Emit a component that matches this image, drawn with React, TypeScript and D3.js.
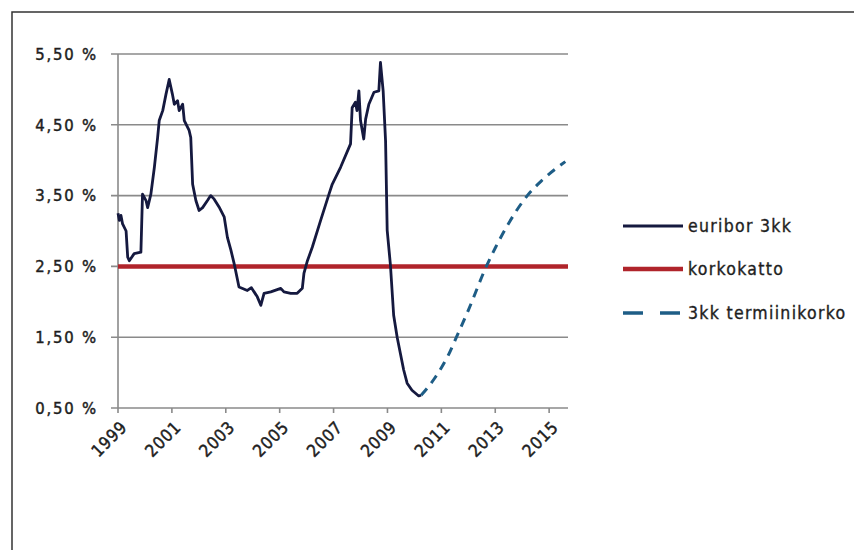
import React from "react";
import * as d3 from "d3";

const euriborDates = [
  1999.0, 1999.05, 1999.11, 1999.17, 1999.3, 1999.36, 1999.42, 1999.6, 1999.85, 1999.91,
  2000.04, 2000.1, 2000.22, 2000.35, 2000.47, 2000.53, 2000.66, 2000.78, 2000.9, 2001.02,
  2001.09, 2001.21, 2001.27, 2001.4, 2001.46, 2001.64, 2001.7, 2001.77, 2001.89, 2002.01,
  2002.14, 2002.32, 2002.44, 2002.57, 2002.75, 2002.94, 2003.06, 2003.19, 2003.31, 2003.49,
  2003.8, 2003.95, 2004.17, 2004.3, 2004.42, 2004.67, 2005.04, 2005.16, 2005.41, 2005.65,
  2005.84, 2005.9, 2006.03, 2006.21, 2006.52, 2006.83, 2006.95, 2007.26, 2007.63, 2007.69,
  2007.81, 2007.87, 2007.94, 2008.0, 2008.12, 2008.19, 2008.31, 2008.5, 2008.68, 2008.74,
  2008.84, 2008.93, 2008.99, 2009.11, 2009.23, 2009.36, 2009.48, 2009.6, 2009.73, 2009.91,
  2010.16, 2010.25,
];
const euriborValues = [
  3.25, 3.15, 3.22, 3.1, 3.0, 2.63, 2.58, 2.68, 2.7, 3.52,
  3.43, 3.33, 3.52, 3.9, 4.32, 4.56, 4.7, 4.93, 5.14, 4.93,
  4.79, 4.84, 4.7, 4.79, 4.56, 4.42, 4.32, 3.66, 3.43, 3.29,
  3.33, 3.43, 3.5, 3.45, 3.34, 3.2, 2.91, 2.73, 2.54, 2.21,
  2.16, 2.2, 2.07, 1.95, 2.12, 2.14, 2.19, 2.14, 2.12, 2.12,
  2.19, 2.4, 2.58, 2.77, 3.15, 3.52, 3.66, 3.9, 4.23, 4.74,
  4.82, 4.7, 4.98, 4.56, 4.3, 4.58, 4.79, 4.96, 4.98, 5.38,
  4.98, 4.27, 3.01, 2.52, 1.81, 1.5, 1.27, 1.04, 0.85, 0.75,
  0.67, 0.68,
];
const forwardDates = [2010.25, 2010.75, 2011.25, 2011.56, 2012.0, 2012.67, 2013.0, 2013.5, 2014.19, 2014.75, 2015.6];
const forwardValues = [0.68, 0.92, 1.24, 1.5, 1.88, 2.5, 2.76, 3.11, 3.5, 3.72, 3.98];
const capValue = 2.5;
const yTicks = [0.5, 1.5, 2.5, 3.5, 4.5, 5.5];
const xTicks = [1999, 2001, 2003, 2005, 2007, 2009, 2011, 2013, 2015];
const seriesNames = ["euribor 3kk", "korkokatto", "3kk termiinikorko"];

const FONT = "'Liberation Sans Narrow', 'DejaVu Sans Condensed', 'Arial Narrow', sans-serif";

export default function App() {
  const x = d3.scaleLinear().domain([1999, 2015.7]).range([118, 568]);
  const y = d3.scaleLinear().domain([0.5, 5.5]).range([408, 54]);

  const line = d3
    .line<[number, number]>()
    .x((d) => x(d[0]))
    .y((d) => y(d[1]));
  const smooth = d3
    .line<[number, number]>()
    .x((d) => x(d[0]))
    .y((d) => y(d[1]))
    .curve(d3.curveMonotoneX);

  const eur = euriborDates.map((d, i) => [d, euriborValues[i]] as [number, number]);
  const fwd = forwardDates.map((d, i) => [d, forwardValues[i]] as [number, number]);

  const fmt = (v: number) => v.toFixed(2).replace(".", ",") + " %";
  const [x0, x1] = x.range();

  const legendY = [226, 269, 313];

  return (
    <svg
      width={854}
      height={550}
      style={{ position: "absolute", left: 0, top: 0, background: "#fff" }}
      fontFamily={FONT}
    >
      <rect x={12} y={12} width={900} height={600} fill="#fff" stroke="#333" strokeWidth={1.5} />
      {yTicks.map((t) => (
        <line key={t} x1={x0 - 7} x2={x1} y1={y(t)} y2={y(t)} stroke="#8a8a8a" strokeWidth={1.6} />
      ))}
      <line x1={x0} x2={x0} y1={y(5.5)} y2={y(0.5)} stroke="#8a8a8a" strokeWidth={1.6} />
      {xTicks.map((t) => (
        <line key={t} x1={x(t)} x2={x(t)} y1={y(0.5)} y2={y(0.5) + 5} stroke="#8a8a8a" strokeWidth={1.6} />
      ))}
      {yTicks.map((t) => (
        <text key={t} x={98} y={y(t)} dy="0.35em" textAnchor="end" fontSize={16.5} letterSpacing={1.8} fill="#1e1e1e" stroke="#1e1e1e" strokeWidth={0.45}>
          {fmt(t)}
        </text>
      ))}
      {xTicks.map((t) => (
        <text
          key={t}
          transform={`translate(${x(t) + 6},${y(0.5) + 16}) rotate(-45)`}
          textAnchor="end"
          dy="0.35em"
          fontSize={17}
          letterSpacing={0.8}
          fill="#1e1e1e"
          stroke="#1e1e1e"
          strokeWidth={0.45}
        >
          {t}
        </text>
      ))}
      <line x1={x0} x2={x1} y1={y(capValue)} y2={y(capValue)} stroke="#b0242b" strokeWidth={4.5} />
      <path d={line(eur) || ""} fill="none" stroke="#15193f" strokeWidth={2.8} strokeLinejoin="round" />
      <path d={smooth(fwd) || ""} fill="none" stroke="#1e5d86" strokeWidth={3} strokeDasharray="9,7" />
      <line x1={623} x2={683} y1={legendY[0]} y2={legendY[0]} stroke="#15193f" strokeWidth={3} />
      <line x1={623} x2={683} y1={legendY[1]} y2={legendY[1]} stroke="#b0242b" strokeWidth={4.5} />
      <line x1={623} x2={683} y1={legendY[2]} y2={legendY[2]} stroke="#1e5d86" strokeWidth={3.5} strokeDasharray="20,17" />
      {seriesNames.map((n, i) => (
        <text key={n} x={688} y={legendY[i]} dy="0.35em" fontSize={17.5} letterSpacing={1.3} fill="#1e1e1e" stroke="#1e1e1e" strokeWidth={0.35}>
          {n}
        </text>
      ))}
    </svg>
  );
}
